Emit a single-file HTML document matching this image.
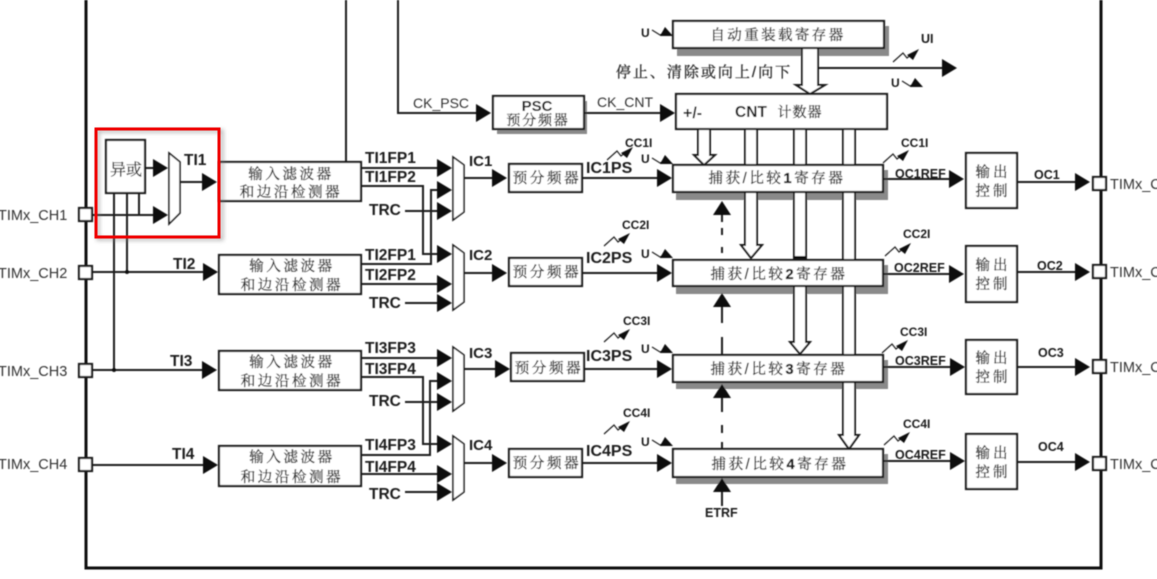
<!DOCTYPE html>
<html><head><meta charset="utf-8"><style>
html,body{margin:0;padding:0;background:#fff;width:1157px;height:579px;overflow:hidden}
svg{display:block}
.b{font-family:"Liberation Sans",sans-serif;font-weight:700;fill:#1c1c1c}
.p{font-family:"Liberation Sans",sans-serif;fill:#333}
.c{font-family:"Liberation Sans","Noto Serif CJK SC",serif;fill:#333;stroke:#333;stroke-width:.35;text-anchor:middle;font-size:14.5px;letter-spacing:2.6px}
.l{fill:none;stroke:#1c1c1c;stroke-width:2}
.box{fill:#fff;stroke:#1c1c1c;stroke-width:2.2}
.sh{fill:#8a8a8a}
.bus{fill:#fff;stroke:#1c1c1c;stroke-width:2}
</style></head><body>
<svg width="1157" height="579" viewBox="0 0 1157 579" xmlns="http://www.w3.org/2000/svg">
<defs>
<filter id="blur" filterUnits="userSpaceOnUse" x="0" y="0" width="1157" height="579"><feGaussianBlur stdDeviation="0.45"/></filter>
<filter id="blur2" filterUnits="userSpaceOnUse" x="0" y="0" width="1157" height="579"><feGaussianBlur stdDeviation="2"/></filter>
<path id="r" d="M0 0L-15-9V9Z" fill="#111"/>
<path id="u" d="M0 0L-9 14H9Z" fill="#111"/>
<g id="cs"><path d="M0 0L10-9L14-4L19-8" fill="none" stroke="#222" stroke-width="1.2"/><path d="M26-13L14-7L20-2Z" fill="#111"/></g>
<g id="us"><path d="M0 0L8 5L12 3" fill="none" stroke="#222" stroke-width="1.2"/><path d="M21 6L13-3L8 6Z" fill="#111"/></g>
</defs>
<g filter="url(#blur)">
<!-- frame -->
<path d="M86 0V568H1101V0" fill="none" stroke="#111" stroke-width="3"/>
<path d="M346 0V162M398 0V113H480" class="l"/>

<!-- shadows -->
<rect class="sh" x="677" y="26" width="212" height="30"/>
<rect class="sh" x="497" y="101" width="90" height="33"/>
<rect class="sh" x="676" y="170" width="212" height="30"/>
<rect class="sh" x="676" y="265" width="212" height="29"/>
<rect class="sh" x="676" y="360" width="212" height="29"/>
<rect class="sh" x="676" y="454" width="212" height="30"/>

<!-- buses -->
<path class="bus" d="M802 48V85H796L810 94L825 85H818V48Z"/>
<path class="bus" d="M698 129V155H694L704 165L715 155H710V129Z"/>
<path class="bus" d="M745 129V245H741L751 258L762 245H757V129Z"/>
<path class="bus" d="M794 129V342H790L800 354L810 342H806V129Z"/>
<path class="bus" d="M843 129V435H839L849 449L859 435H855V129Z"/>
<path d="M794 257.500H806" stroke="#111" stroke-width="3"/>

<!-- left wiring -->
<path class="l" d="M114 193V370M127 193V272M139 193V215M92 215H155M145 168H155M180 182H204"/>
<path class="l" d="M92 272H205M92 370H205M92 465H205"/>
<circle cx="127" cy="272" r="2" fill="#111"/><circle cx="114" cy="370" r="2" fill="#111"/>
<use href="#r" x="168" y="215"/><use href="#r" x="168" y="168"/><use href="#r" x="217" y="182"/>
<use href="#r" x="218" y="272"/><use href="#r" x="217" y="370"/><use href="#r" x="218" y="465"/>

<!-- XOR + mux -->
<rect class="box" x="106" y="140" width="39" height="53"/>
<text class="c" x="126" y="175" style="font-size:16px;letter-spacing:0">异或</text>
<path class="box" d="M169 153L180 162V213L169 224Z" style="stroke-width:1.6"/>
<text class="b" x="184" y="165" font-size="15.500">TI1</text>
<text class="b" x="173" y="269" font-size="15.500">TI2</text>
<text class="b" x="170" y="366" font-size="15.500">TI3</text>
<text class="b" x="172" y="459" font-size="15.500">TI4</text>

<!-- filters -->
<rect class="box" x="219" y="162" width="142" height="39"/>
<rect class="box" x="219" y="255" width="142" height="39"/>
<rect class="box" x="219" y="351" width="142" height="39"/>
<rect class="box" x="219" y="446" width="142" height="40"/>
<text class="c" x="291" y="179">输入滤波器</text><text class="c" x="291" y="197">和边沿检测器</text>
<text class="c" x="292" y="271">输入滤波器</text><text class="c" x="292" y="290">和边沿检测器</text>
<text class="c" x="292" y="367">输入滤波器</text><text class="c" x="292" y="386">和边沿检测器</text>
<text class="c" x="292" y="462">输入滤波器</text><text class="c" x="292" y="482">和边沿检测器</text>

<!-- filter outputs -->
<path class="l" d="M361 168H438M361 186H423V254H438M361 264H431V190H438M405 211H438"/>
<path class="l" d="M361 284H438M405 303H438"/>
<path class="l" d="M361 358H438M361 377H423V444H438M361 455H430V381H438M405 402H438"/>
<path class="l" d="M361 474H438M405 492H438"/>
<use href="#r" x="452" y="168"/><use href="#r" x="452" y="190"/><use href="#r" x="452" y="211"/>
<use href="#r" x="452" y="254"/><use href="#r" x="452" y="284"/><use href="#r" x="452" y="303"/>
<use href="#r" x="452" y="358"/><use href="#r" x="452" y="381"/><use href="#r" x="452" y="402"/>
<use href="#r" x="452" y="444"/><use href="#r" x="452" y="474"/><use href="#r" x="452" y="492"/>
<text class="b" x="365" y="163" font-size="15.500">TI1FP1</text>
<text class="b" x="365" y="182" font-size="15.500">TI1FP2</text>
<text class="b" x="369" y="215" font-size="15.500">TRC</text>
<text class="b" x="365" y="260" font-size="15.500">TI2FP1</text>
<text class="b" x="365" y="280" font-size="15.500">TI2FP2</text>
<text class="b" x="369" y="308" font-size="15.500">TRC</text>
<text class="b" x="365" y="353" font-size="15.500">TI3FP3</text>
<text class="b" x="365" y="374" font-size="15.500">TI3FP4</text>
<text class="b" x="369" y="406" font-size="15.500">TRC</text>
<text class="b" x="365" y="450" font-size="15.500">TI4FP3</text>
<text class="b" x="365" y="472" font-size="15.500">TI4FP4</text>
<text class="b" x="369" y="499" font-size="15.500">TRC</text>

<!-- muxes -->
<g style="stroke-width:1.6">
<path class="box" d="M453 157L464 165V212L453 220Z" style="stroke-width:1.6"/>
<path class="box" d="M453 245L464 253V302L453 310Z" style="stroke-width:1.6"/>
<path class="box" d="M453 347L464 355V403L453 411Z" style="stroke-width:1.6"/>
<path class="box" d="M453 436L464 444V492L453 500Z" style="stroke-width:1.6"/>
</g>
<path class="l" d="M464 178H495M464 273H495M464 369H498M464 463H495"/>
<use href="#r" x="507" y="178"/><use href="#r" x="507" y="273"/><use href="#r" x="510" y="369"/><use href="#r" x="507" y="463"/>
<text class="b" x="469" y="166" font-size="15">IC1</text>
<text class="b" x="469" y="260" font-size="15">IC2</text>
<text class="b" x="469" y="358" font-size="15">IC3</text>
<text class="b" x="469" y="450" font-size="15">IC4</text>

<!-- prescalers -->
<rect class="box" x="509" y="164" width="73" height="28"/>
<rect class="box" x="509" y="258" width="73" height="28"/>
<rect class="box" x="511" y="353" width="73" height="28"/>
<rect class="box" x="509" y="449" width="73" height="28"/>
<text class="c" x="547" y="183">预分频器</text>
<text class="c" x="547" y="277">预分频器</text>
<text class="c" x="549" y="373">预分频器</text>
<text class="c" x="547" y="468">预分频器</text>
<path class="l" d="M582 178H660M582 273H660M584 369H660M582 463H660"/>
<use href="#r" x="672" y="178"/><use href="#r" x="672" y="273"/><use href="#r" x="672" y="369"/><use href="#r" x="672" y="463"/>
<text class="b" x="586" y="173" font-size="16">IC1PS</text>
<text class="b" x="586" y="263" font-size="16">IC2PS</text>
<text class="b" x="586" y="361" font-size="16">IC3PS</text>
<text class="b" x="586" y="456" font-size="16">IC4PS</text>

<!-- interrupts left -->
<use href="#cs" x="607" y="160"/><use href="#cs" x="604" y="246"/><use href="#cs" x="604" y="342"/><use href="#cs" x="604" y="434"/>
<text class="b" x="625" y="147" font-size="12">CC1I</text>
<text class="b" x="622" y="229" font-size="12">CC2I</text>
<text class="b" x="623" y="325" font-size="12">CC3I</text>
<text class="b" x="623" y="417" font-size="12">CC4I</text>
<text class="b" x="641" y="163" font-size="12">U</text><use href="#us" x="652" y="158"/>
<text class="b" x="641" y="258" font-size="12">U</text><use href="#us" x="652" y="252"/>
<text class="b" x="641" y="353" font-size="12">U</text><use href="#us" x="652" y="347"/>
<text class="b" x="641" y="446" font-size="12">U</text><use href="#us" x="652" y="440"/>
<text class="b" x="641" y="37" font-size="12">U</text><use href="#us" x="652" y="30"/>
<text class="b" x="891" y="87" font-size="12">U</text><use href="#us" x="902" y="81"/>

<!-- top: reload, PSC, CNT -->
<rect class="box" x="673" y="21" width="211" height="27"/>
<text class="c" x="778" y="40" style="letter-spacing:2.400px">自动重装载寄存器</text>
<text class="c" x="704" y="77" style="font-size:15px;letter-spacing:2px">停止、清除或向上/向下</text>
<path class="l" d="M818 68H943"/><use href="#r" x="957" y="68"/>
<use href="#cs" x="893" y="62"/><text class="b" x="921" y="43" font-size="12.500">UI</text>
<use href="#r" x="491" y="113"/>
<text class="p" x="413" y="108" font-size="14">CK_PSC</text>
<rect class="box" x="493" y="96" width="91" height="33"/>
<text class="b" x="537" y="111" font-size="15" text-anchor="middle">PSC</text>
<text class="c" x="538" y="125" style="font-size:14px;letter-spacing:1.800px">预分频器</text>
<path class="l" d="M584 113H662"/><use href="#r" x="675" y="113"/>
<text class="p" x="597" y="107" font-size="14">CK_CNT</text>
<rect class="box" x="676" y="94" width="211" height="35"/>
<text class="b" x="683" y="118" font-size="16">+/-</text>
<text class="b" x="735" y="117" font-size="15.500">CNT</text>
<text class="c" x="800" y="117" style="font-size:14px;letter-spacing:1px">计数器</text>

<!-- capture registers -->
<rect class="box" x="673" y="165" width="210" height="27"/>
<rect class="box" x="673" y="260" width="210" height="26"/>
<rect class="box" x="673" y="355" width="210" height="27"/>
<rect class="box" x="673" y="449" width="210" height="28"/>
<text class="c" x="777" y="183">捕获/比较<tspan class="b">1</tspan>寄存器</text>
<text class="c" x="779" y="279">捕获/比较<tspan class="b">2</tspan>寄存器</text>
<text class="c" x="779" y="374">捕获/比较<tspan class="b">3</tspan>寄存器</text>
<text class="c" x="780" y="469">捕获/比较<tspan class="b">4</tspan>寄存器</text>

<!-- vertical dashed -->
<path class="l" d="M722 215V222M722 228V235M722 247V253M722 307V323M722 337V355M722 398V412M722 425V433M722 442V449M722 492V506"/>
<use href="#u" x="722" y="201"/><use href="#u" x="722" y="293"/><use href="#u" x="722" y="384"/><use href="#u" x="722" y="478"/>
<text class="b" x="705" y="517" font-size="12.500">ETRF</text>

<!-- right outputs -->
<path class="l" d="M883 179H950M883 274H950M883 367H950M883 461H950"/>
<use href="#r" x="964" y="179"/><use href="#r" x="964" y="274"/><use href="#r" x="965" y="367"/><use href="#r" x="965" y="461"/>
<text class="b" x="895" y="178" font-size="12.500">OC1REF</text>
<text class="b" x="894" y="272" font-size="12.500">OC2REF</text>
<text class="b" x="895" y="365" font-size="12.500">OC3REF</text>
<text class="b" x="895" y="459" font-size="12.500">OC4REF</text>
<use href="#cs" x="883" y="163"/><use href="#cs" x="885" y="256"/><use href="#cs" x="882" y="353"/><use href="#cs" x="884" y="445"/>
<text class="b" x="901" y="147" font-size="12">CC1I</text>
<text class="b" x="903" y="238" font-size="12">CC2I</text>
<text class="b" x="900" y="336" font-size="12">CC3I</text>
<text class="b" x="903" y="428" font-size="12">CC4I</text>

<rect class="box" x="966" y="153" width="51" height="55"/>
<rect class="box" x="966" y="246" width="51" height="56"/>
<rect class="box" x="966" y="340" width="51" height="54"/>
<rect class="box" x="966" y="434" width="51" height="55"/>
<g>
<text class="c" x="993" y="177" style="letter-spacing:3px">输出</text><text class="c" x="993" y="196" style="letter-spacing:3px">控制</text>
<text class="c" x="993" y="270" style="letter-spacing:3px">输出</text><text class="c" x="993" y="289" style="letter-spacing:3px">控制</text>
<text class="c" x="993" y="363" style="letter-spacing:3px">输出</text><text class="c" x="993" y="382" style="letter-spacing:3px">控制</text>
<text class="c" x="993" y="458" style="letter-spacing:3px">输出</text><text class="c" x="993" y="477" style="letter-spacing:3px">控制</text>
</g>
<path class="l" d="M1017 182H1076M1017 272H1076M1017 367H1076M1017 462H1076"/>
<use href="#r" x="1090" y="182"/><use href="#r" x="1090" y="272"/><use href="#r" x="1090" y="367"/><use href="#r" x="1090" y="462"/>
<text class="b" x="1034" y="179" font-size="12.500">OC1</text>
<text class="b" x="1037" y="270" font-size="12.500">OC2</text>
<text class="b" x="1038" y="357" font-size="12.500">OC3</text>
<text class="b" x="1038" y="451" font-size="12.500">OC4</text>

<!-- pins -->
<rect class="box" x="79" y="208" width="13" height="13"/>
<rect class="box" x="79" y="266" width="13" height="13"/>
<rect class="box" x="79" y="364" width="13" height="13"/>
<rect class="box" x="79" y="458" width="13" height="13"/>
<rect class="box" x="1093" y="177" width="13" height="13"/>
<rect class="box" x="1093" y="265" width="13" height="13"/>
<rect class="box" x="1093" y="360" width="13" height="13"/>
<rect class="box" x="1093" y="457" width="13" height="13"/>
<text class="p" x="-2" y="220" font-size="14.500">TIMx_CH1</text>
<text class="p" x="-2" y="278" font-size="14.500">TIMx_CH2</text>
<text class="p" x="-2" y="376" font-size="14.500">TIMx_CH3</text>
<text class="p" x="-2" y="469" font-size="14.500">TIMx_CH4</text>
<text class="p" x="1110" y="189" font-size="14.500">TIMx_CH1</text>
<text class="p" x="1110" y="277" font-size="14.500">TIMx_CH2</text>
<text class="p" x="1110" y="372" font-size="14.500">TIMx_CH3</text>
<text class="p" x="1110" y="469" font-size="14.500">TIMx_CH4</text>
</g>
<!-- red highlight -->
<rect x="98" y="131" width="124" height="108" fill="none" stroke="#777" stroke-width="3" opacity=".55" filter="url(#blur2)"/>
<rect x="96" y="129" width="123" height="108" fill="none" stroke="#f00000" stroke-width="3"/>
</svg>
</body></html>
